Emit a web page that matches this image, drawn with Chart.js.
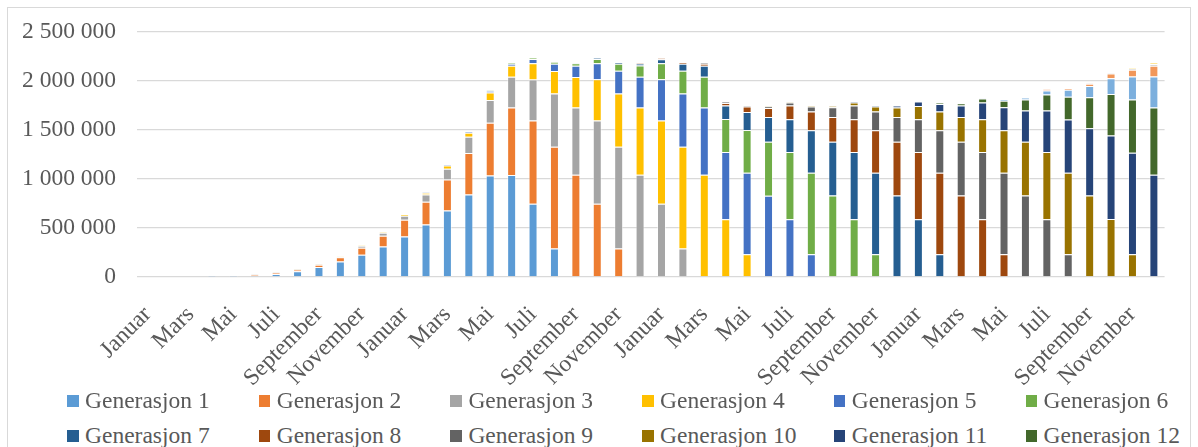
<!DOCTYPE html>
<html>
<head>
<meta charset="utf-8">
<script src="https://cdn.jsdelivr.net/npm/chart.js@4/dist/chart.umd.min.js"></script>
<style>
  body { margin: 0; background: #fff; width: 1198px; height: 447px; overflow: hidden; position: relative; }
  .frame { position: absolute; left: 7px; top: 7px; width: 1182px; height: 460px; border: 1.5px solid #d9d9d9; }
  .wrap { position: absolute; left: 8px; top: 8px; width: 1182px; height: 380px; }
  .legend { position: absolute; left: 0; top: 0; font-family: 'Liberation Serif', 'Times New Roman', serif; font-size: 23.5px; color: #595959; }
  .item { position: absolute; white-space: nowrap; line-height: 1; }
  .item i { position: absolute; left: 0; width: 11.5px; height: 11.5px; }
  .item span { position: absolute; left: 18px; }
</style>
</head>
<body>
<div class="frame"></div>
<div class="wrap"><canvas id="chart"></canvas></div>
<div class="legend" id="legend"></div>
<script>
// Kategorier: 4 år med måneder
const monthNames = ['Januar', 'Februar', 'Mars', 'April', 'Mai', 'Juni',
                    'Juli', 'August', 'September', 'Oktober', 'November', 'Desember'];
const months = [...monthNames, ...monthNames, ...monthNames, ...monthNames];

// Verdier per generasjon, i tusen (48 måneder)
const gen1 = [0, 0, 0, 2, 3, 14, 31, 58, 103, 157, 226, 311,
              414, 535, 678, 842, 1035, 1040, 747, 290, 0, 0, 0, 0,
              0, 0, 0, 0, 0, 0, 0, 0, 0, 0, 0, 0,
              0, 0, 0, 0, 0, 0, 0, 0, 0, 0, 0, 0];
const gen2 = [0, 0, 0, 1, 1, 6, 10, 17, 23, 45, 72, 110,
              170, 232, 318, 423, 540, 689, 849, 1040, 1043, 747, 290, 0,
              0, 0, 0, 0, 0, 0, 0, 0, 0, 0, 0, 0,
              0, 0, 0, 0, 0, 0, 0, 0, 0, 0, 0, 0];
const gen3 = [0, 0, 0, 0, 1, 5, 5, 5, 5, 5, 20, 30,
              42, 75, 109, 167, 232, 314, 420, 542, 686, 849, 1040, 1043,
              747, 290, 0, 0, 0, 0, 0, 0, 0, 0, 0, 0,
              0, 0, 0, 0, 0, 0, 0, 0, 0, 0, 0, 0];
const gen4 = [0, 0, 0, 0, 0, 2, 2, 2, 2, 2, 7, 7,
              14, 17, 34, 41, 75, 112, 164, 230, 313, 422, 542, 686,
              849, 1040, 1043, 590, 232, 0, 0, 0, 0, 0, 0, 0,
              0, 0, 0, 0, 0, 0, 0, 0, 0, 0, 0, 0];
const gen5 = [0, 0, 0, 0, 0, 0, 0, 0, 0, 0, 0, 0,
              0, 7, 7, 7, 17, 22, 45, 75, 114, 162, 233, 315,
              421, 542, 686, 685, 832, 829, 590, 232, 0, 0, 0, 0,
              0, 0, 0, 0, 0, 0, 0, 0, 0, 0, 0, 0];
const gen6 = [0, 0, 0, 0, 0, 0, 0, 0, 0, 0, 0, 0,
              0, 0, 0, 0, 3, 9, 10, 17, 25, 44, 72, 115,
              163, 233, 315, 338, 436, 552, 685, 832, 832, 590, 232, 0,
              0, 0, 0, 0, 0, 0, 0, 0, 0, 0, 0, 0];
const gen7 = [0, 0, 0, 0, 0, 0, 0, 0, 0, 0, 0, 0,
              0, 0, 0, 0, 0, 0, 0, 0, 4, 9, 12, 17,
              42, 71, 112, 136, 184, 252, 334, 433, 549, 685, 832, 832,
              590, 232, 0, 0, 0, 0, 0, 0, 0, 0, 0, 0];
const gen8 = [0, 0, 0, 0, 0, 0, 0, 0, 0, 0, 0, 0,
              0, 0, 0, 0, 0, 0, 0, 0, 0, 0, 0, 7,
              9, 13, 21, 27, 55, 92, 140, 191, 252, 334, 433, 549,
              685, 832, 832, 590, 232, 0, 0, 0, 0, 0, 0, 0];
const gen9 = [0, 0, 0, 0, 0, 0, 0, 0, 0, 0, 0, 0,
              0, 0, 0, 0, 0, 0, 0, 0, 0, 0, 0, 0,
              0, 0, 6, 10, 13, 14, 31, 51, 100, 140, 191, 252,
              334, 433, 549, 685, 832, 832, 590, 232, 0, 0, 0, 0];
const gen10 = [0, 0, 0, 0, 0, 0, 0, 0, 0, 0, 0, 0,
               0, 0, 0, 0, 0, 0, 0, 0, 0, 0, 0, 0,
               0, 0, 0, 0, 0, 7, 7, 13, 11, 31, 51, 96,
               137, 191, 252, 334, 433, 549, 685, 832, 832, 593, 232, 0];
const gen11 = [0, 0, 0, 0, 0, 0, 0, 0, 0, 0, 0, 0,
               0, 0, 0, 0, 0, 0, 0, 0, 0, 0, 0, 0,
               0, 0, 0, 0, 0, 0, 0, 0, 0, 10, 13, 22,
               44, 78, 116, 171, 234, 317, 423, 544, 685, 852, 1036, 1043];
const gen12 = [0, 0, 0, 0, 0, 0, 0, 0, 0, 0, 0, 0,
               0, 0, 0, 0, 0, 0, 0, 0, 0, 0, 0, 0,
               0, 0, 0, 0, 0, 0, 0, 0, 0, 0, 0, 0,
               0, 10, 24, 41, 68, 112, 164, 232, 316, 422, 543, 686];
// serier uten egen forklaring (lysere farger)
const gen13 = [0, 0, 0, 0, 0, 0, 0, 0, 0, 0, 0, 0,
               0, 0, 0, 0, 0, 0, 0, 0, 0, 0, 0, 0,
               0, 0, 0, 0, 0, 0, 0, 0, 0, 0, 0, 0,
               0, 0, 0, 4, 16, 22, 42, 70, 116, 162, 235, 317];
const gen14 = [0, 0, 0, 0, 0, 0, 0, 0, 0, 0, 0, 0,
               0, 0, 0, 0, 0, 0, 0, 0, 0, 0, 0, 0,
               0, 0, 0, 0, 0, 0, 0, 0, 0, 0, 0, 0,
               0, 0, 0, 0, 0, 0, 11, 16, 23, 48, 68, 110];
const gen15 = [0, 0, 0, 0, 0, 0, 0, 0, 0, 0, 0, 0,
               0, 0, 0, 0, 0, 0, 0, 0, 0, 0, 0, 0,
               0, 0, 0, 0, 0, 0, 0, 0, 0, 0, 0, 0,
               0, 0, 0, 0, 0, 0, 0, 0, 5, 6, 14, 17];
const gen16 = [0, 0, 0, 0, 0, 0, 0, 0, 0, 0, 0, 0,
               0, 0, 0, 0, 0, 0, 0, 0, 0, 0, 0, 0,
               0, 0, 0, 0, 0, 0, 0, 0, 0, 0, 0, 0,
               0, 0, 0, 0, 0, 0, 0, 0, 0, 0, 9, 10];

const series = [gen1, gen2, gen3, gen4, gen5, gen6, gen7, gen8,
                gen9, gen10, gen11, gen12, gen13, gen14, gen15, gen16];
const colors = ['#5B9BD5', '#ED7D31', '#A5A5A5', '#FFC000', '#4472C4', '#70AD47',
                '#255E91', '#9E480E', '#636363', '#997300', '#264478', '#43682B',
                '#7CAFDD', '#F1975A', '#B7B7B7', '#FFCD33'];
const legendCount = 12;

const yTicks = [0, 500000, 1000000, 1500000, 2000000, 2500000];

const FONT = "'Liberation Serif', 'Times New Roman', serif";
const fmt = v => String(v).replace(/\B(?=(\d{3})+(?!\d))/g, ' ');

const datasets = series.map((s, i) => ({
    label: 'Generasjon ' + (i + 1),
    data: s.map(v => v === 0 ? null : v * 1000),
    backgroundColor: colors[i],
    borderColor: 'rgba(255,255,255,0.45)',
    borderWidth: 1,
    categoryPercentage: 1,
    barPercentage: 0.42
}));

new Chart(document.getElementById('chart'), {
    type: 'bar',
    data: { labels: months, datasets: datasets },
    options: {
        responsive: true,
        maintainAspectRatio: false,
        animation: false,
        layout: { padding: { top: 24, right: 17, left: 0, bottom: 0 } },
        plugins: { legend: { display: false }, tooltip: { enabled: false } },
        scales: {
            x: {
                stacked: true,
                grid: { display: false },
                border: { display: false },
                ticks: {
                    autoSkip: false,
                    maxRotation: 45,
                    minRotation: 45,
                    padding: 16,
                    color: '#595959',
                    font: { family: FONT, size: 23.5 },
                    callback: (v, i) => i % 2 === 0 ? months[i] : ''
                },
                afterFit: s => { s.height = 111; s.paddingTop = 0; }
            },
            y: {
                stacked: true,
                min: 0,
                max: 2500000,
                afterBuildTicks: s => { s.ticks = yTicks.map(v => ({ value: v })); },
                grid: { color: '#d9d9d9', lineWidth: 1.3, drawTicks: false },
                border: { display: false },
                ticks: {
                    padding: 21,
                    color: '#595959',
                    font: { family: FONT, size: 23.5 },
                    callback: v => fmt(v)
                },
                afterFit: s => { s.width = 129; s.paddingTop = 0; s.paddingBottom = 0; }
            }
        }
    }
});

// forklaring, 6 kolonner x 2 rader
const legend = document.getElementById('legend');
for (let i = 0; i < legendCount; i++) {
    const col = i % 6, row = Math.floor(i / 6);
    const el = document.createElement('div');
    el.className = 'item';
    el.style.left = (67 + col * 191.7) + 'px';
    el.style.top = (389 + row * 35) + 'px';
    el.innerHTML = '<i style="background:' + colors[i] + ';top:6px"></i><span>' + datasets[i].label + '</span>';
    legend.appendChild(el);
}
</script>
</body>
</html>
